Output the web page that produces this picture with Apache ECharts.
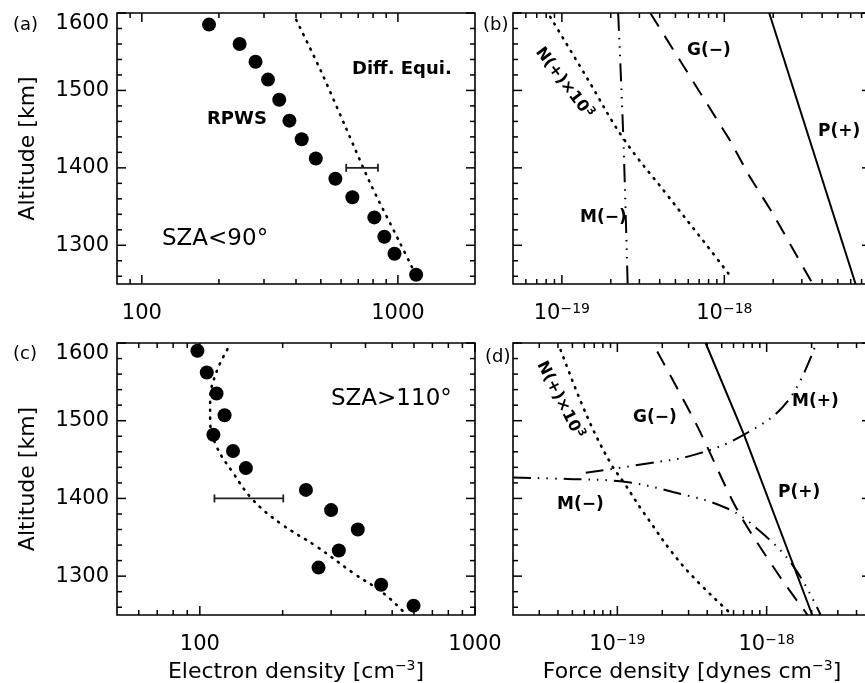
<!DOCTYPE html>
<html><head><meta charset="utf-8">
<script src="https://cdn.jsdelivr.net/npm/echarts@6/dist/echarts.min.js"></script>
<style>html,body{margin:0;padding:0;background:#fff}#c{width:865px;height:683px}</style>
</head><body><div id="c"></div>
<script>
// ---------------- DATA ----------------
// Tick positions
const altTicksMajor = [1300, 1400, 1500, 1600];
const altTicksMinor = [1260, 1280, 1320, 1340, 1360, 1380, 1420, 1440, 1460, 1480, 1520, 1540, 1560, 1580];
const neTicksMajorA = [100, 1000];
const neTicksMinorA = [90, 200, 300, 400, 500, 600, 700, 800, 900];
const neTicksMajorC = [100, 1000];
const neTicksMinorC = [60, 70, 80, 90, 200, 300, 400, 500, 600, 700, 800, 900];
const fTicksMajor = [1e-19, 1e-18];
const fTicksMinorB = [6e-20, 7e-20, 8e-20, 9e-20, 2e-19, 3e-19, 4e-19, 5e-19, 6e-19, 7e-19, 8e-19, 9e-19, 2e-18, 3e-18, 4e-18, 5e-18, 6e-18, 7e-18];
const fTicksMinorD = [3e-20, 4e-20, 5e-20, 6e-20, 7e-20, 8e-20, 9e-20, 2e-19, 3e-19, 4e-19, 5e-19, 6e-19, 7e-19, 8e-19, 9e-19, 2e-18, 3e-18, 4e-18];

// Panel (a): SZA<90
const rpwsAltA = [1585, 1560, 1537, 1514, 1488, 1461, 1437, 1412, 1386, 1362, 1336, 1311, 1289, 1262];
const rpwsNeA  = [183, 241, 278, 311, 344, 377, 421, 478, 570, 664, 809, 885, 970, 1178];
const diffAltA = [1591, 1526, 1453, 1380, 1307, 1272, 1259];
const diffNeA  = [401, 499, 624, 780, 1005, 1134, 1186];
const errA = [628, 836, 1400];   // [low, high, altitude]

// Panel (c): SZA>110
const rpwsAltC = [1590, 1562, 1535, 1507, 1482, 1461, 1439, 1411, 1385, 1360, 1333, 1311, 1289, 1262];
const rpwsNeC  = [98, 106, 115, 123, 112, 132, 147, 243, 300, 375, 320, 270, 456, 598];
const diffAltC = [1592, 1563, 1527, 1501, 1467, 1433, 1398, 1368, 1338, 1304, 1278, 1254];
const diffNeC  = [126, 115, 109, 109, 115, 132, 156, 196, 266, 361, 465, 550];
const errC = [113, 201, 1400];

// Panel (b): force densities, SZA<90
const pAltB = [1600, 1250];
const pB    = [1.89e-18, 6.43e-18];
const gAltB = [1600, 1436, 1389, 1341, 1250];
const gB    = [3.5e-19, 1.08e-18, 1.43e-18, 1.99e-18, 3.50e-18];
const mAltB = [1600, 1438, 1250];
const mB    = [2.22e-19, 2.39e-19, 2.54e-19];
const nAltB = [1595, 1517, 1438, 1366, 1295, 1259];
const nB    = [8.47e-20, 1.42e-19, 2.39e-19, 4.41e-19, 8.13e-19, 1.10e-18];

// Panel (d): force densities, SZA>110
const pAltD = [1600, 1482, 1250];
const pD    = [3.90e-19, 7.05e-19, 2.02e-18];
const gAltD = [1589, 1493, 1385, 1304, 1250];
const gD    = [1.85e-19, 3.43e-19, 6.37e-19, 1.18e-18, 1.88e-18];
const mPlusAltD = [1433, 1445, 1456, 1482, 1525, 1600];
const mPlusD    = [6.14e-20, 1.59e-19, 3.26e-19, 7.05e-19, 1.38e-18, 2.15e-18];
const mMinusAltD = [1427, 1425, 1422, 1408, 1387, 1357, 1312, 1250];
const mMinusD    = [2.0e-20, 4.62e-20, 1.05e-19, 2.39e-19, 5.46e-19, 9.12e-19, 1.52e-18, 2.30e-18];
const nAltD = [1591, 1505, 1445, 1420, 1381, 1312, 1252];
const nD    = [4.17e-20, 6.29e-20, 9.02e-20, 1.11e-19, 1.51e-19, 2.79e-19, 5.74e-19];

// Axis ranges
const altRange = [1250, 1600];
const neRangeA = [80, 2000];
const neRangeC = [50, 1000];
const fRangeB = [5e-20, 8e-18];
const fRangeD = [2e-20, 5e-18];

// ---------------- CHART ----------------
const FONT = 'DejaVu Sans';
const zip = (xs, ys) => xs.map((x, i) => [x, ys[i]]);
const DOT = [1, 7];
const DASH = [16, 11];
const DDD = [18, 7, 1.5, 7, 1.5, 7, 1.5, 7];

const grids = [
  {left: 117, top: 13, width: 358, height: 271},
  {left: 513, top: 13, width: 358, height: 271},
  {left: 117, top: 343, width: 358, height: 272},
  {left: 513, top: 343, width: 358, height: 272}
].map(g => Object.assign(g, {show: true, borderColor: '#000', borderWidth: 1.6, backgroundColor: 'transparent', containLabel: false, outerBoundsMode: 'none'}));

function isPow10(v) { const L = Math.log10(v); return Math.abs(L - Math.round(L)) < 1e-6; }

function xAxis(i, range, sci, name) {
  const ax = {
    type: 'log', logBase: 10, gridIndex: i, min: range[0], max: range[1],
    axisLine: {show: false}, axisTick: {show: false}, splitLine: {show: false}, minorTick: {show: false},
    axisLabel: {
      show: true, margin: 18, color: '#000', fontFamily: FONT, fontSize: 21, lineHeight: 24,
      showMinLabel: true, showMaxLabel: true,
      formatter: v => {
        if (!isPow10(v)) return '';
        const L = Math.round(Math.log10(v));
        return sci ? '{b|10}{s|\u2212' + Math.abs(L) + '}' : String(Math.round(Math.pow(10, L)));
      },
      rich: {
        b: {fontSize: 21, fontFamily: FONT, color: '#000', lineHeight: 24},
        s: {fontSize: 14, fontFamily: FONT, color: '#000', lineHeight: 10, verticalAlign: 'top'}
      }
    }
  };
  if (name) {
    Object.assign(ax, {
      name: name, nameLocation: 'middle', nameGap: 44,
      nameTextStyle: {fontFamily: FONT, fontSize: 22, color: '#000', lineHeight: 26,
        rich: {s: {fontFamily: FONT, fontSize: 14, color: '#000', lineHeight: 12, verticalAlign: 'top'}}}
    });
  }
  return ax;
}

function yAxis(i, labels) {
  const ax = {
    type: 'value', gridIndex: i, min: altRange[0], max: altRange[1], interval: 50,
    axisLine: {show: false}, axisTick: {show: false}, splitLine: {show: false}, minorTick: {show: false},
    axisLabel: {
      show: labels, margin: 8, color: '#000', fontFamily: FONT, fontSize: 21,
      showMinLabel: false, verticalAlignMaxLabel: 'top',
      formatter: v => (v % 100 === 0 ? String(v) : '')
    }
  };
  if (labels) {
    Object.assign(ax, {name: 'Altitude [km]', nameLocation: 'middle', nameGap: 78,
      nameTextStyle: {fontFamily: FONT, fontSize: 22, color: '#000'}});
  }
  return ax;
}

// Ticks on all four sides (IDL style), drawn through the axes' own scales
function tickSeries(i, xMaj, xMin, xRange) {
  const data = [], kinds = [];
  const xRef = Math.sqrt(xRange[0] * xRange[1]);
  xMaj.forEach(v => { data.push([v, 1400]); kinds.push(1); });
  xMin.forEach(v => { data.push([v, 1400]); kinds.push(0); });
  altTicksMajor.forEach(v => { data.push([xRef, v]); kinds.push(3); });
  altTicksMinor.forEach(v => { data.push([xRef, v]); kinds.push(2); });
  return {
    type: 'custom', xAxisIndex: i, yAxisIndex: i, silent: true, z: 10,
    data: data, encode: {x: 0, y: 1},
    renderItem: function (params, api) {
      const kind = kinds[params.dataIndex];
      const len = (kind % 2) ? 9 : 5;
      const st = {stroke: '#000', lineWidth: 1.5};
      const xv = api.value(0), yv = api.value(1);
      if (kind < 2) {
        const pb = api.coord([xv, altRange[0]]);
        const pt = api.coord([xv, altRange[1]]);
        return {type: 'group', children: [
          {type: 'line', shape: {x1: pb[0], y1: pb[1], x2: pb[0], y2: pb[1] - len}, style: st},
          {type: 'line', shape: {x1: pt[0], y1: pt[1], x2: pt[0], y2: pt[1] + len}, style: st}
        ]};
      }
      const pl = api.coord([xRange[0], yv]);
      const pr = api.coord([xRange[1], yv]);
      return {type: 'group', children: [
        {type: 'line', shape: {x1: pl[0], y1: pl[1], x2: pl[0] + len, y2: pl[1]}, style: st},
        {type: 'line', shape: {x1: pr[0], y1: pr[1], x2: pr[0] - len, y2: pr[1]}, style: st}
      ]};
    }
  };
}

function errSeries(i, e) {
  return {
    type: 'custom', xAxisIndex: i, yAxisIndex: i, silent: true, z: 6,
    data: [e], encode: {x: [0, 1], y: 2},
    renderItem: function (params, api) {
      const p1 = api.coord([api.value(0), api.value(2)]);
      const p2 = api.coord([api.value(1), api.value(2)]);
      const st = {stroke: '#222', lineWidth: 1.8};
      return {type: 'group', children: [
        {type: 'line', shape: {x1: p1[0], y1: p1[1], x2: p2[0], y2: p2[1]}, style: st},
        {type: 'line', shape: {x1: p1[0], y1: p1[1] - 4, x2: p1[0], y2: p1[1] + 4}, style: st},
        {type: 'line', shape: {x1: p2[0], y1: p2[1] - 4, x2: p2[0], y2: p2[1] + 4}, style: st}
      ]};
    }
  };
}

function line(i, xs, ys, type, smooth, width) {
  const dotted = type === DOT;
  return {
    type: 'line', xAxisIndex: i, yAxisIndex: i, data: zip(xs, ys), symbol: 'none', showSymbol: false,
    smooth: smooth || false, silent: true, z: 4,
    lineStyle: {color: '#000', width: width || (dotted ? 2.6 : 2), type: type, cap: dotted ? 'round' : 'butt'}
  };
}

function dots(i, xs, ys) {
  return {type: 'scatter', xAxisIndex: i, yAxisIndex: i, data: zip(xs, ys), symbol: 'circle',
    symbolSize: 14, itemStyle: {color: '#000', opacity: 1}, silent: true, z: 5};
}

function txt(x, y, text, size, bold, extra) {
  return Object.assign({
    type: 'text', x: x, y: y, silent: true, z: 20,
    style: {text: text, fill: '#000', fontFamily: FONT, fontSize: size, fontWeight: bold ? 'bold' : 'normal',
      align: 'left', verticalAlign: 'middle'}
  }, extra || {});
}

function nLabel(cx, cy, deg) {
  return {
    type: 'text', x: cx, y: cy, rotation: -deg * Math.PI / 180, silent: true, z: 20,
    style: {
      text: '{a|N(+)\u00d710}{s|3}', align: 'center', verticalAlign: 'middle',
      rich: {
        a: {fontFamily: FONT, fontSize: 16, fontWeight: 'bold', fill: '#000', lineHeight: 20},
        s: {fontFamily: FONT, fontSize: 11, fontWeight: 'bold', fill: '#000', lineHeight: 10, verticalAlign: 'top'}
      }
    }
  };
}

const chart = echarts.init(document.getElementById('c'), null, {renderer: 'canvas'});
chart.setOption({
  backgroundColor: '#fff',
  animation: false,
  grid: grids,
  xAxis: [
    xAxis(0, neRangeA, false, null),
    xAxis(1, fRangeB, true, null),
    xAxis(2, neRangeC, false, 'Electron density [cm{s|\u22123}]'),
    xAxis(3, fRangeD, true, 'Force density [dynes cm{s|\u22123}]')
  ],
  yAxis: [yAxis(0, true), yAxis(1, false), yAxis(2, true), yAxis(3, false)],
  series: [
    // (a)
    line(0, diffNeA, diffAltA, DOT, 0.3),
    dots(0, rpwsNeA, rpwsAltA),
    errSeries(0, errA),
    // (c)
    line(2, diffNeC, diffAltC, DOT, 0.4),
    dots(2, rpwsNeC, rpwsAltC),
    errSeries(2, errC),
    // (b)
    line(1, pB, pAltB, 'solid', false),
    line(1, gB, gAltB, DASH, false),
    line(1, mB, mAltB, DDD, 0.3),
    line(1, nB, nAltB, DOT, 0.4),
    // (d)
    line(3, pD, pAltD, 'solid', false),
    line(3, gD, gAltD, DASH, 0.3),
    line(3, mPlusD, mPlusAltD, DDD, 0.4),
    line(3, mMinusD, mMinusAltD, DDD, 0.4),
    line(3, nD, nAltD, DOT, 0.4),
    // ticks
    tickSeries(0, neTicksMajorA, neTicksMinorA, neRangeA),
    tickSeries(1, fTicksMajor, fTicksMinorB, fRangeB),
    tickSeries(2, neTicksMajorC, neTicksMinorC, neRangeC),
    tickSeries(3, fTicksMajor, fTicksMinorD, fRangeD)
  ],
  graphic: [
    txt(13, 25, '(a)', 18, false),
    txt(483, 25, '(b)', 18, false),
    txt(13, 354, '(c)', 18, false),
    txt(485, 357, '(d)', 18, false),
    txt(352, 69, 'Diff. Equi.', 18, true),
    txt(207, 119, 'RPWS', 18, true),
    txt(162, 239, 'SZA<90\u00b0', 23, false),
    txt(331, 399, 'SZA>110\u00b0', 23, false),
    txt(687, 51, 'G(\u2212)', 17, true),
    txt(580, 218, 'M(\u2212)', 17, true),
    txt(818, 132, 'P(+)', 17, true),
    nLabel(564, 83, 53),
    txt(633, 418, 'G(\u2212)', 17, true),
    txt(792, 402, 'M(+)', 17, true),
    txt(778, 493, 'P(+)', 17, true),
    txt(557, 505, 'M(\u2212)', 17, true),
    nLabel(560, 400, 63)
  ]
});
</script></body></html>
